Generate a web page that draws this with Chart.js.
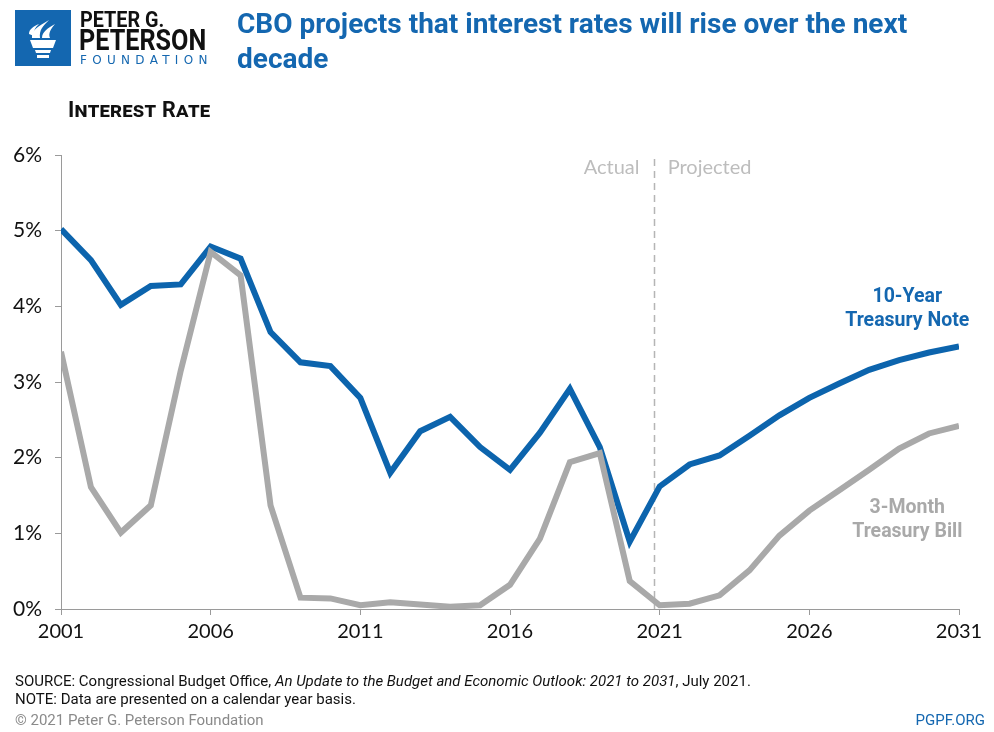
<!DOCTYPE html>
<html>
<head>
<meta charset="utf-8">
<script src="https://cdn.jsdelivr.net/npm/chart.js@4"></script>
<style>
  html,body{margin:0;padding:0;background:#fff;}
  body{width:994px;height:732px;position:relative;overflow:hidden;font-family:"Liberation Sans Narrow","Roboto",sans-serif;}
  #wrap{position:absolute;left:0;top:0;width:994px;height:732px;}
  .abs{position:absolute;white-space:nowrap;}
  #title{left:237px;top:6px;color:#1467b0;font-weight:bold;font-size:28px;line-height:35px;}
  #ylab{left:68px;top:97px;font-weight:bold;font-size:21.5px;color:#111;font-variant:small-caps;letter-spacing:0.2px;}
  .ann{color:#bdbdbd;font-family:Lato,sans-serif;font-size:20px;}
  .ser{font-weight:bold;font-size:19.5px;line-height:24px;text-align:center;}
  #foot1,#foot2{left:15px;font-size:15px;color:#111;}
  #foot1{top:672px;} #foot2{top:690px;}
  #copy{left:15px;top:711px;font-size:15px;color:#8a8a8a;}
  #pgpf{right:9px;top:711px;font-size:15px;color:#1467b0;}
  .cond{transform-origin:0 0;}
</style>
</head>
<body>
<div id="wrap"><canvas id="c"></canvas></div>

<svg class="abs" style="left:15px;top:10px" width="56" height="56" viewBox="0 0 56 56">
  <rect x="0" y="0" width="56" height="56" fill="#1467b0"/>
  <path d="M15 30 L41 30 L38 38 L18 38 Z" fill="#fff"/>
  <path d="M20 40 L36 40 L35 43 L21 43 Z" fill="#fff"/>
  <path d="M22 45 L34 45 L34 48 L22 48 Z" fill="#fff"/>
  <path d="M17 28 C16 20 24 16 34 10 C28 16 24 20 25 28 Z" fill="#fff"/>
  <path d="M27 28 C27 22 33 18 40 14 C36 19 33 23 35 28 Z" fill="#fff"/>
  <path d="M14 24 C14 19 19 16 24 14 C20 18 18 21 19 26 Z" fill="#fff"/>
</svg>
<div class="abs cond" style="left:80px;top:8px;font-weight:bold;font-size:22px;line-height:24px;color:#111;transform:scaleX(0.9);">PETER G.</div>
<div class="abs cond" style="left:79px;top:25px;font-weight:bold;font-size:30px;line-height:30px;color:#111;transform:scaleX(0.84);">PETERSON</div>
<div class="abs" style="left:80px;top:53px;font-size:12px;line-height:14px;letter-spacing:5.3px;color:#1467b0;font-family:'DejaVu Sans',sans-serif;">FOUNDATION</div>

<div id="title" class="abs">CBO projects that interest rates will rise over the next<br>decade</div>
<div id="ylab" class="abs">Interest Rate</div>

<div class="abs ann" id="actual" style="top:154px;">Actual</div>
<div class="abs ann" id="proj" style="top:154px;">Projected</div>

<div class="abs ser" id="s1" style="color:#1467b0;top:284px;">10-Year<br>Treasury Note</div>
<div class="abs ser" id="s2" style="color:#a9a9a9;top:495px;">3-Month<br>Treasury Bill</div>

<div id="foot1" class="abs">SOURCE: Congressional Budget Office, <i>An Update to the Budget and Economic Outlook: 2021 to 2031</i>, July 2021.</div>
<div id="foot2" class="abs">NOTE: Data are presented on a calendar year basis.</div>
<div id="copy" class="abs">© 2021 Peter G. Peterson Foundation</div>
<div id="pgpf" class="abs">PGPF.ORG</div>

<script>
const years = [2001,2002,2003,2004,2005,2006,2007,2008,2009,2010,2011,2012,2013,2014,2015,2016,2017,2018,2019,2020,2021,2022,2023,2024,2025,2026,2027,2028,2029,2030,2031];
const tenYearNote = [5.02,4.61,4.02,4.27,4.29,4.79,4.63,3.66,3.26,3.21,2.79,1.80,2.35,2.54,2.14,1.84,2.33,2.91,2.14,0.89,1.62,1.91,2.03,2.29,2.56,2.79,2.98,3.16,3.29,3.39,3.47];
const threeMonthBill = [3.40,1.61,1.01,1.37,3.15,4.72,4.41,1.37,0.15,0.14,0.05,0.09,0.06,0.03,0.05,0.32,0.93,1.94,2.06,0.37,0.05,0.07,0.18,0.51,0.97,1.30,1.57,1.84,2.12,2.32,2.42];
const xTicks = [2001,2006,2011,2016,2021,2026,2031];
const yTicks = [0,1,2,3,4,5,6];
const dividerYear = 2020.8;
const seriesLabelYear = 2029.27;

const blue = '#0c64ad';
const gray = '#a9a9a9';

const pts = a => years.map((y,i)=>({x:y,y:a[i]}));

const dividerPlugin = {
  id:'divider',
  beforeDatasetsDraw(chart){
    const {ctx, scales:{x,y}} = chart;
    const px = Math.round(x.getPixelForValue(dividerYear))+0.5;
    ctx.save();
    ctx.strokeStyle = '#b5b5b5';
    ctx.lineWidth = 1.5;
    ctx.setLineDash([7,5]);
    ctx.beginPath();
    ctx.moveTo(px, y.top+4);
    ctx.lineTo(px, y.bottom);
    ctx.stroke();
    ctx.restore();
  },
  afterRender(chart){
    const {scales:{x}} = chart;
    const px = x.getPixelForValue(dividerYear);
    const a = document.getElementById('actual');
    a.style.left = (px - 14 - a.offsetWidth) + 'px';
    document.getElementById('proj').style.left = (px + 14) + 'px';
    const cx = x.getPixelForValue(seriesLabelYear);
    const s1 = document.getElementById('s1');
    s1.style.left = (cx - s1.offsetWidth/2) + 'px';
    const s2 = document.getElementById('s2');
    s2.style.left = (cx - s2.offsetWidth/2) + 'px';
  }
};

new Chart(document.getElementById('c'), {
  type:'line',
  data:{
    datasets:[
      {label:'3-Month Treasury Bill', data:pts(threeMonthBill), borderColor:gray, borderWidth:6, pointRadius:0, tension:0, borderJoinStyle:'miter', borderCapStyle:'butt'},
      {label:'10-Year Treasury Note', data:pts(tenYearNote), borderColor:blue, borderWidth:6, pointRadius:0, tension:0, borderJoinStyle:'miter', borderCapStyle:'butt'}
    ]
  },
  options:{
    responsive:true, maintainAspectRatio:false, animation:false,
    devicePixelRatio:1,
    layout:{padding:{top:155,left:0,right:35,bottom:83}},
    plugins:{legend:{display:false}, tooltip:{enabled:false}},
    scales:{
      x:{
        type:'linear', min:2001, max:2031,
        afterBuildTicks(s){ s.ticks = xTicks.map(v=>({value:v})); },
        afterFit(s){ s.height = 40; },
        grid:{drawOnChartArea:false, drawTicks:true, tickLength:6, color:'#9a9a9a', lineWidth:1},
        border:{display:true, color:'#9a9a9a', width:1},
        ticks:{padding:5, color:'#111', font:{family:'Lato', size:20}, callback:v=>String(v), maxRotation:0, autoSkip:false}
      },
      y:{
        min:0, max:6,
        afterBuildTicks(s){ s.ticks = yTicks.map(v=>({value:v})); },
        afterFit(s){ s.width = 61; },
        grid:{drawOnChartArea:false, drawTicks:true, tickLength:6, color:'#9a9a9a', lineWidth:1},
        border:{display:true, color:'#9a9a9a', width:1},
        ticks:{padding:13, color:'#111', font:{family:'Lato', size:21}, callback:v=>v+'%'}
      }
    }
  },
  plugins:[dividerPlugin]
});
</script>
</body>
</html>
